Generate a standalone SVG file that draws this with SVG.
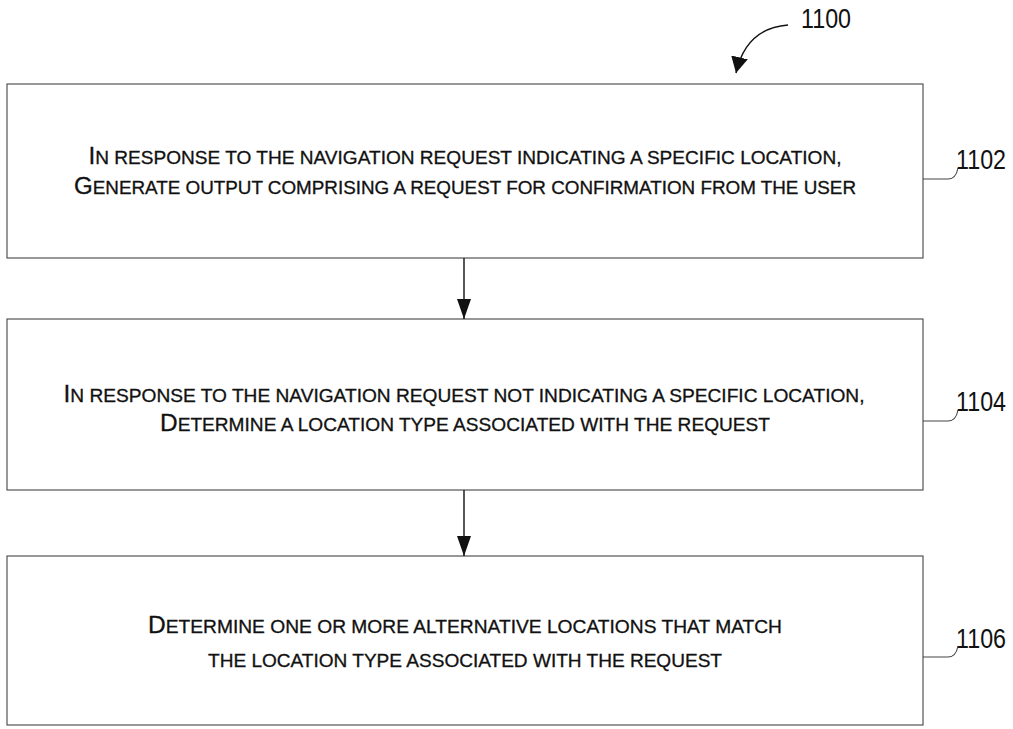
<svg xmlns="http://www.w3.org/2000/svg" width="1013" height="729" viewBox="0 0 1013 729">
  <style>
    .box { fill: #fff; stroke: #444; stroke-width: 1.1; }
    .line { fill: none; stroke: #111; stroke-width: 1.4; }
    .lead { fill: none; stroke: #444; stroke-width: 1.1; }
    .t { font-family: "Liberation Sans", Arial, sans-serif; font-size: 18px; fill: #111; stroke: #111; stroke-width: 0.3; }
    .c { font-size: 23px; }
    .num { font-family: "Liberation Sans", Arial, sans-serif; font-size: 27px; fill: #111; }
  </style>
  <defs>
    <marker id="head" viewBox="0 0 20 14" refX="20" refY="7" markerWidth="20" markerHeight="14" markerUnits="userSpaceOnUse" orient="auto">
      <path d="M0,0 L20,7 L0,14 Z" fill="#111"/>
    </marker>
    <marker id="headBig" viewBox="0 0 16 17" refX="16" refY="8.5" markerWidth="16" markerHeight="17" markerUnits="userSpaceOnUse" orient="auto">
      <path d="M0,0 L16,8.5 L0,17 Z" fill="#111"/>
    </marker>
  </defs>
  <rect width="1013" height="729" fill="#fff"/>

  <!-- figure reference -->
  <g id="fig-label">
    <text class="num" x="801" y="28" textLength="50" lengthAdjust="spacingAndGlyphs">1100</text>
    <path class="line" d="M788,25 C762,27 743,42 736,73" marker-end="url(#headBig)" stroke-width="1.8"/>
  </g>

  <!-- step 1102 -->
  <g id="step-1102">
    <rect class="box" x="7" y="84" width="916" height="174"/>
    <text class="t" x="465" y="164" text-anchor="middle" textLength="753" lengthAdjust="spacingAndGlyphs"><tspan class="c">I</tspan>N RESPONSE TO THE NAVIGATION REQUEST INDICATING A SPECIFIC LOCATION,</text>
    <text class="t" x="465" y="194" text-anchor="middle" textLength="782" lengthAdjust="spacingAndGlyphs"><tspan class="c">G</tspan>ENERATE OUTPUT COMPRISING A REQUEST FOR CONFIRMATION FROM THE USER</text>
    <path class="lead" d="M923,179 H948 Q956,179 958,168"/>
    <text class="num" x="956" y="169" textLength="50" lengthAdjust="spacingAndGlyphs">1102</text>
  </g>

  <!-- step 1104 -->
  <g id="step-1104">
    <rect class="box" x="7" y="319" width="916" height="171"/>
    <text class="t" x="464" y="402" text-anchor="middle" textLength="801" lengthAdjust="spacingAndGlyphs"><tspan class="c">I</tspan>N RESPONSE TO THE NAVIGATION REQUEST NOT INDICATING A SPECIFIC LOCATION,</text>
    <text class="t" x="465" y="431" text-anchor="middle" textLength="610" lengthAdjust="spacingAndGlyphs"><tspan class="c">D</tspan>ETERMINE A LOCATION TYPE ASSOCIATED WITH THE REQUEST</text>
    <path class="lead" d="M923,421 H948 Q956,421 958,410"/>
    <text class="num" x="956" y="411" textLength="50" lengthAdjust="spacingAndGlyphs">1104</text>
  </g>

  <!-- step 1106 -->
  <g id="step-1106">
    <rect class="box" x="7" y="556" width="916" height="169"/>
    <text class="t" x="465" y="633" text-anchor="middle" textLength="634" lengthAdjust="spacingAndGlyphs"><tspan class="c">D</tspan>ETERMINE ONE OR MORE ALTERNATIVE LOCATIONS THAT MATCH</text>
    <text class="t" x="465" y="667" text-anchor="middle" textLength="514" lengthAdjust="spacingAndGlyphs">THE LOCATION TYPE ASSOCIATED WITH THE REQUEST</text>
    <path class="lead" d="M923,657 H948 Q956,657 958,646"/>
    <text class="num" x="956" y="648" textLength="50" lengthAdjust="spacingAndGlyphs">1106</text>
  </g>

  <!-- flow connectors -->
  <g id="connectors">
    <path class="line" d="M464,258 V319" marker-end="url(#head)"/>
    <path class="line" d="M464,490 V556" marker-end="url(#head)"/>
  </g>
</svg>
